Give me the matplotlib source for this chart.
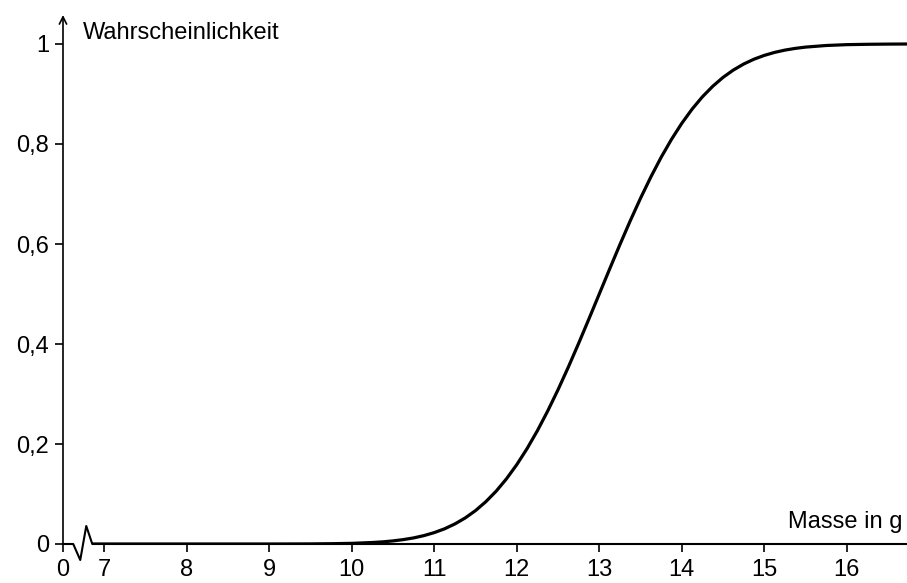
import matplotlib.pyplot as plt

plt.rcParams['font.family'] = ['Liberation Sans', 'DejaVu Sans']

# Werte
masse = [6.85, 7, 8, 9, 9.5, 9.75, 10, 10.25, 10.375, 10.5, 10.625, 10.75,
         10.875, 11, 11.125, 11.25, 11.375, 11.5, 11.625, 11.75, 11.875,
         12, 12.125, 12.25, 12.375, 12.5, 12.625, 12.75, 12.875, 13,
         13.125, 13.25, 13.375, 13.5, 13.625, 13.75, 13.875, 14, 14.125,
         14.25, 14.375, 14.5, 14.625, 14.75, 14.875, 15, 15.125, 15.25,
         15.375, 15.5, 15.75, 16, 16.25, 16.5, 16.75]
wahrsch = [0.0, 0.0, 0.0, 0.0, 0.0002, 0.0006, 0.0013, 0.003, 0.0043, 0.0062,
           0.0088, 0.0122, 0.0168, 0.0228, 0.0304, 0.0401, 0.0521, 0.0668,
           0.0846, 0.1056, 0.1303, 0.1587, 0.1908, 0.2266, 0.266, 0.3085,
           0.3538, 0.4013, 0.4503, 0.5, 0.5497, 0.5987, 0.6462, 0.6915,
           0.734, 0.7734, 0.8092, 0.8413, 0.8697, 0.8944, 0.9154, 0.9332,
           0.9479, 0.9599, 0.9696, 0.9772, 0.9832, 0.9878, 0.9912, 0.9938,
           0.997, 0.9987, 0.9994, 0.9998, 1.0]

x_ticks = [6.5, 7, 8, 9, 10, 11, 12, 13, 14, 15, 16]
x_labels = ['0', '7', '8', '9', '10', '11', '12', '13', '14', '15', '16']
y_ticks = [0, 0.2, 0.4, 0.6, 0.8, 1]
y_labels = ['0', '0,2', '0,4', '0,6', '0,8', '1']

fig = plt.figure(figsize=(9.07, 5.83), dpi=100)
ax = fig.add_axes([63 / 907, 39 / 583, 844 / 907, 529 / 583])

ax.plot(masse, wahrsch, color='black', lw=2.3, solid_capstyle='butt',
        solid_joinstyle='round', zorder=3)

ax.set_xlim(6.5, 16.73)
ax.set_ylim(0, 1.058)

for s in ax.spines.values():
    s.set_visible(False)

# x-Achse mit Achsenbruch
ax.plot([6.5, 6.624, 6.709, 6.782, 6.855, 16.73],
        [0, 0, -0.032, 0.036, 0, 0],
        color='black', lw=1.5, clip_on=False, zorder=2)
# y-Achse mit Pfeil
ax.annotate('', xy=(0, 1), xycoords='axes fraction', xytext=(0, 0),
            arrowprops=dict(arrowstyle='->', lw=1.2, color='black',
                            shrinkA=0, shrinkB=0, mutation_scale=13))

ax.set_xticks(x_ticks)
ax.set_xticklabels(x_labels)
ax.set_yticks(y_ticks)
ax.set_yticklabels(y_labels)
ax.tick_params(direction='out', length=6, width=1.2, labelsize=17, pad=4)
ax.tick_params(axis='x', pad=5)

ax.text(0.023, 0.966, 'Wahrscheinlichkeit', transform=ax.transAxes,
        fontsize=17, va='center', ha='left')
ax.text(0.995, 0.042, 'Masse in g', transform=ax.transAxes,
        fontsize=17, va='center', ha='right')

fig.savefig('out.png', dpi=100)
